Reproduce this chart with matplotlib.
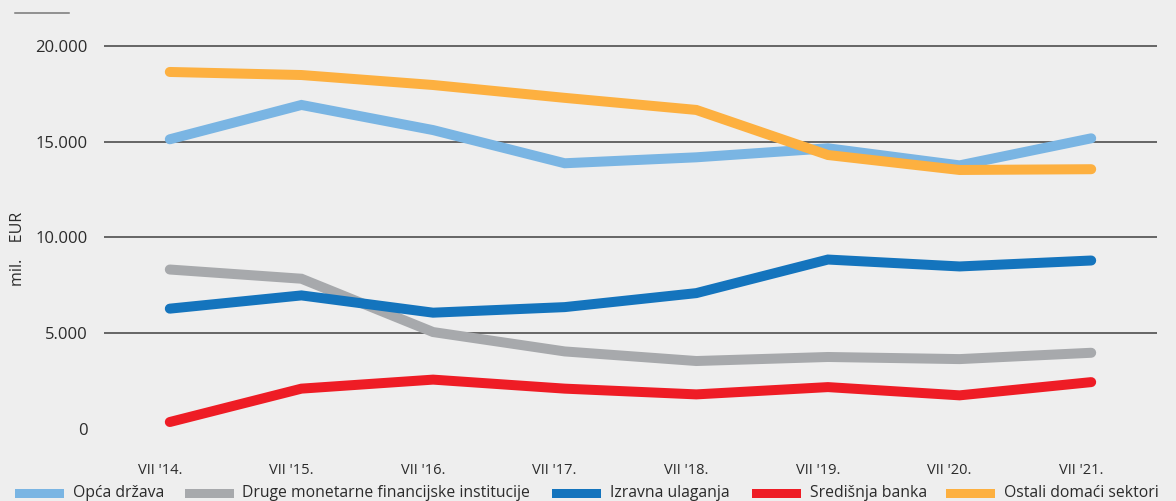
import matplotlib
matplotlib.use("Agg")
import matplotlib.pyplot as plt
from matplotlib.transforms import ScaledTranslation
from matplotlib.patches import Rectangle

plt.rcParams['font.family'] = ['Open Sans', 'DejaVu Sans']

categories = ["VII '14.", "VII '15.", "VII '16.", "VII '17.", "VII '18.", "VII '19.", "VII '20.", "VII '21."]
opca_drzava = [15120, 16910, 15600, 13870, 14180, 14650, 13760, 15170]
druge_mfi = [8330, 7850, 5070, 4060, 3560, 3770, 3660, 3990]
izravna_ulaganja = [6290, 6980, 6080, 6370, 7100, 8850, 8490, 8800]
sredisnja_banka = [380, 2120, 2590, 2120, 1820, 2200, 1770, 2460]
ostali_sektori = [18630, 18470, 17950, 17280, 16650, 14300, 13520, 13560]
y_ticks = [0, 5000, 10000, 15000, 20000]
y_tick_labels = ["0", "5.000", "10.000", "15.000", "20.000"]

series_names = ["Opća država", "Druge monetarne financijske institucije", "Izravna ulaganja",
                "Središnja banka", "Ostali domaći sektori"]
colors = ["#7ab5e3", "#a7a9ac", "#1474bd", "#ee1c25", "#fdb040"]

BG = "#eeeeee"
TXT = "#2b2b2b"
W, H = 1176, 501
fig = plt.figure(figsize=(W / 100, H / 100), dpi=100, facecolor=BG)
ax = fig.add_axes([104 / W, (H - 429.3) / H, 1053 / W, 402.8 / H], facecolor=BG)

x = list(range(len(categories)))
lw = 7.2
draw = [(1, druge_mfi), (2, izravna_ulaganja), (0, opca_drzava), (3, sredisnja_banka), (4, ostali_sektori)]
for idx, vals in draw:
    ax.plot(x, vals, color=colors[idx], lw=lw, solid_capstyle='round', solid_joinstyle='miter',
            zorder=3 + idx * 0.01, clip_on=False)

for t in y_ticks[1:]:
    ax.axhline(t, color="#404040", lw=1.1, zorder=1)

ax.set_xlim(-0.5, 7.5)
ax.set_ylim(0, 21000)
ax.set_yticks(y_ticks)
ax.set_yticklabels(y_tick_labels)
ax.set_xticks(x)
ax.set_xticklabels(categories)
ax.tick_params(axis='both', length=0, colors=TXT)
ax.tick_params(axis='y', pad=12, labelsize=12)
ax.tick_params(axis='x', pad=24, labelsize=10.5)
for lab in ax.get_xticklabels():
    lab.set_transform(lab.get_transform() + ScaledTranslation(-10 / 100, 0, fig.dpi_scale_trans))
for s in ax.spines.values():
    s.set_visible(False)

fig.text(18 / W, 1 - 249 / H, "mil.    EUR", rotation=90, ha='center', va='center',
         fontsize=11.5, color=TXT)

# top-left short rule
fig.add_artist(plt.Line2D([15 / W, 69 / W], [1 - 13 / H, 1 - 13 / H], color="#777777", lw=1.1))

# legend
leg = [(15, 73), (185, 242), (552, 610), (752, 810), (946, 1004)]
yc = 493
for i, (px, tx) in enumerate(leg):
    fig.add_artist(Rectangle((px / W, 1 - (yc + 4.5) / H), 49 / W, 9 / H,
                             transform=fig.transFigure, color=colors[i], lw=0))
    fig.text(tx / W, 1 - yc / H, series_names[i], ha='left', va='center', fontsize=11.3, color=TXT)

fig.savefig("out.png", dpi=100, facecolor=BG)
